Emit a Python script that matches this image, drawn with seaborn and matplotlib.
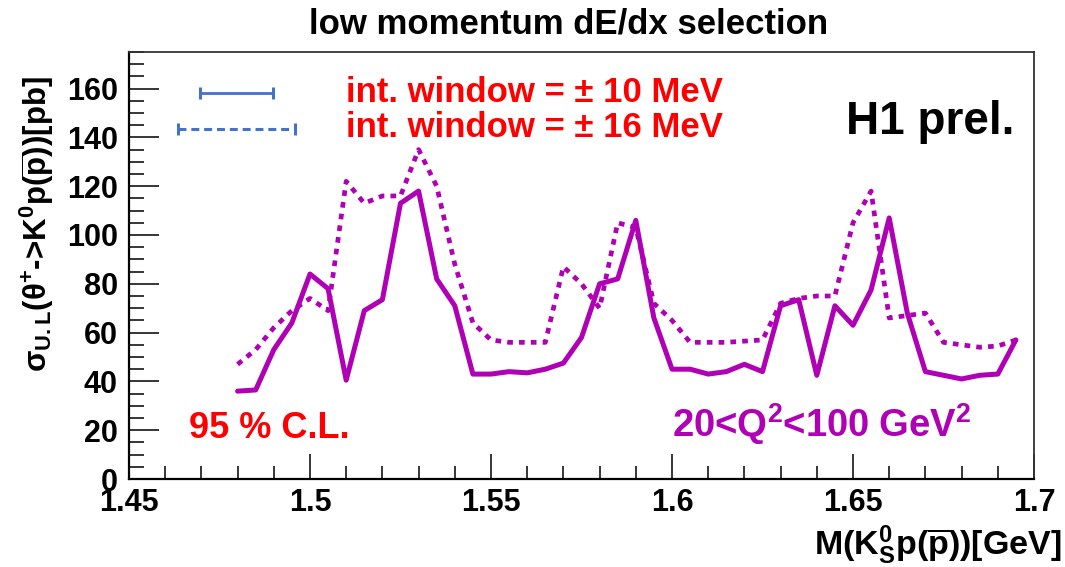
import matplotlib
matplotlib.use("Agg")
import matplotlib.pyplot as plt
from matplotlib.ticker import MultipleLocator, FixedLocator, FuncFormatter
import pandas as pd
import seaborn as sns

# K0s p(pbar) invariant mass bins [GeV]
mass = [1.480, 1.485, 1.490, 1.495, 1.500, 1.505, 1.510, 1.515, 1.520, 1.525,
        1.530, 1.535, 1.540, 1.545, 1.550, 1.555, 1.560, 1.565, 1.570, 1.575,
        1.580, 1.585, 1.590, 1.595, 1.600, 1.605, 1.610, 1.615, 1.620, 1.625,
        1.630, 1.635, 1.640, 1.645, 1.650, 1.655, 1.660, 1.665, 1.670, 1.675,
        1.680, 1.685, 1.690, 1.695]

# 95% C.L. upper limits [pb], integration window +-10 MeV
limit_10mev = [36, 36.5, 53, 64, 84, 78, 40.5, 69, 73.5, 113,
               118, 82, 71, 43, 43, 44, 43.5, 45, 47.5, 58,
               80, 82, 106, 66, 45, 45, 43, 44, 47, 44,
               71, 73.5, 42.5, 71, 63, 77.5, 107, 68, 44, 42.5,
               41, 42.5, 43, 57]

# 95% C.L. upper limits [pb], integration window +-16 MeV
limit_16mev = [47, 53, 62, 69, 74, 69, 122, 113, 116, 116,
               135, 120, 88, 64, 57, 56, 56, 56, 87, 80,
               70, 105, 103, 72, 65, 56, 56, 56, 56.5, 57,
               72, 74, 75, 75, 105, 118, 66, 67, 68, 56,
               55, 54, 54.5, 57]

x_ticks = [1.45, 1.5, 1.55, 1.6, 1.65, 1.7]
y_ticks = [0, 20, 40, 60, 80, 100, 120, 140, 160]

legend_labels = ["int. window = \u00b1 10 MeV", "int. window = \u00b1 16 MeV"]

CURVE = "#b000b5"
KEY = "#4472c4"

sns.set_theme(style="ticks")
plt.rcParams["font.family"] = ["Liberation Sans", "DejaVu Sans"]
plt.rcParams["mathtext.fontset"] = "custom"
plt.rcParams["mathtext.rm"] = "Liberation Sans:bold"
plt.rcParams["mathtext.it"] = "Liberation Sans:bold"
plt.rcParams["mathtext.bf"] = "Liberation Sans:bold"

fig = plt.figure(figsize=(10.65, 5.67), dpi=100)
ax = fig.add_axes([0.1211, 0.1552, 0.8498, 0.7531])

df10 = pd.DataFrame({"mass": mass, "limit": limit_10mev})
df16 = pd.DataFrame({"mass": mass, "limit": limit_16mev})

sns.lineplot(data=df16, x="mass", y="limit", ax=ax, color=CURVE, lw=3.4,
             linestyle=(0, (1.2, 1.3)), dash_capstyle="butt",
             estimator=None, sort=False)
sns.lineplot(data=df10, x="mass", y="limit", ax=ax, color=CURVE, lw=3.6,
             solid_joinstyle="round", estimator=None, sort=False)

ax.set_xlim(1.45, 1.7)
ax.set_ylim(0, 175)
ax.set_xlabel("")
ax.set_ylabel("")

ax.xaxis.set_major_locator(FixedLocator(x_ticks))
ax.xaxis.set_minor_locator(MultipleLocator(0.01))
ax.yaxis.set_major_locator(FixedLocator(y_ticks))
ax.yaxis.set_minor_locator(MultipleLocator(5))
ax.xaxis.set_major_formatter(FuncFormatter(lambda v, p: f"{v:g}"))
ax.yaxis.set_major_formatter(FuncFormatter(lambda v, p: f"{v:g}"))

ax.tick_params(axis="both", which="both", direction="in", color="black",
               width=1.1, top=False, right=False)
ax.tick_params(axis="x", which="major", length=18, pad=6.5)
ax.tick_params(axis="x", which="minor", length=9.4)
ax.tick_params(axis="y", which="major", length=21.6, pad=8)
ax.tick_params(axis="y", which="minor", length=10.8)
for lab in ax.get_xticklabels() + ax.get_yticklabels():
    lab.set_fontsize(22)
    lab.set_fontweight("bold")
    lab.set_color("black")

for side in ["left", "bottom"]:
    ax.spines[side].set_color("black")
    ax.spines[side].set_linewidth(1.6)
for side in ["top", "right"]:
    ax.spines[side].set_visible(True)
    ax.spines[side].set_color("#333333")
    ax.spines[side].set_linewidth(1.3)

# legend keys: solid and dashed bars with end caps
ax.plot([0.0785, 0.159], [0.903, 0.903], transform=ax.transAxes, color=KEY,
        lw=2.0, marker="|", markersize=8, markeredgewidth=2.2)
ax.plot([0.054, 0.183], [0.820, 0.820], transform=ax.transAxes, color=KEY,
        lw=2.2, linestyle=(0, (2.6, 1.6)), marker="|", markersize=8,
        markeredgewidth=2.2)
ax.text(0.240, 0.884, legend_labels[0], transform=ax.transAxes, color="red",
        fontsize=25, fontweight="bold", ha="left", va="baseline")
ax.text(0.240, 0.801, legend_labels[1], transform=ax.transAxes, color="red",
        fontsize=25, fontweight="bold", ha="left", va="baseline")

ax.text(0.792, 0.808, "H1 prel.", transform=ax.transAxes, color="black",
        fontsize=33, fontweight="bold", ha="left", va="baseline")
ax.text(0.066, 0.096, "95 % C.L.", transform=ax.transAxes, color="red",
        fontsize=26, fontweight="bold", ha="left", va="baseline")
ax.text(0.600, 0.098, r"$\mathrm{20\text{<}Q^{2}\text{<}100\;GeV^{2}}$",
        transform=ax.transAxes, color=CURVE, fontsize=27.5,
        ha="left", va="baseline")

fig.text(0.534, 1 - 33 / 567, "low momentum dE/dx selection", fontsize=25,
         fontweight="bold", ha="center", va="baseline", color="black")
fig.text(0.034, 1 - 224 / 567,
         r"$\mathrm{\sigma_{U.L}(\theta^{+}\text{->}K^{0}p(\overline{p}))[pb]}$",
         rotation=90, fontsize=22.5, ha="center", va="center", color="black")
fig.text(1062 / 1065, 1 - 555 / 567,
         r"$\mathrm{M(K^{0}_{S}p(\overline{p}))[GeV]}$",
         fontsize=24.5, ha="right", va="baseline", color="black")

fig.savefig("out.png", dpi=100, facecolor="white")
